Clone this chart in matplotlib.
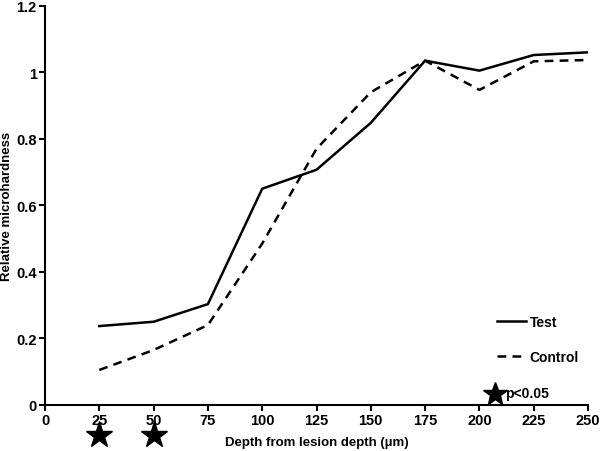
import matplotlib.pyplot as plt
from matplotlib.lines import Line2D

depth = [25, 50, 75, 100, 125, 150, 175, 200, 225, 250]
test = [0.237, 0.250, 0.303, 0.650, 0.707, 0.848, 1.035, 1.005, 1.052, 1.060]
control = [0.105, 0.165, 0.240, 0.485, 0.770, 0.940, 1.035, 0.947, 1.033, 1.037]
significant = [25, 50]

plt.rcParams["font.family"] = ["Liberation Sans", "DejaVu Sans"]
plt.rcParams["font.weight"] = "bold"
plt.rcParams["font.size"] = 10

fig = plt.figure(figsize=(6, 4.52), dpi=100)
ax = fig.add_axes([0.075, 0.102, 0.905, 0.883])

dash = (0, (3.5, 2.5))
ax.plot(depth, test, color="black", lw=1.8, label="Test")
ax.plot(depth, control, color="black", lw=1.8, ls=dash, label="Control")

ax.set_xlim(0, 250)
ax.set_ylim(0, 1.2)
ax.set_xticks(range(0, 251, 25))
ax.set_yticks([0, 0.2, 0.4, 0.6, 0.8, 1.0, 1.2])
ax.set_yticklabels(["0", "0.2", "0.4", "0.6", "0.8", "1", "1.2"])
for s in ("top", "right"):
    ax.spines[s].set_visible(False)
for s in ("left", "bottom"):
    ax.spines[s].set_linewidth(1.5)
ax.tick_params(width=1.5, length=4, pad=2, labelsize=10.5)

ax.set_xlabel("Depth from lesion depth (µm)", fontsize=9.5, fontweight="bold", labelpad=6)
ax.set_ylabel("Relative microhardness", fontsize=9.5, fontweight="bold", labelpad=2)

# significance stars below the x axis
trans = ax.get_xaxis_transform()
ax.plot(significant, [-0.075] * len(significant), marker="*", ms=20, color="black",
        ls="none", transform=trans, clip_on=False)

handles = [Line2D([], [], color="black", lw=1.8),
           Line2D([], [], color="black", lw=1.8, ls=dash)]
ax.legend(handles, ["Test", "Control"], loc="upper left", bbox_to_anchor=(0.832, 0.225),
          frameon=False, borderpad=0, borderaxespad=0, handlelength=2.1,
          handletextpad=0.25, labelspacing=1.5, prop={"weight": "bold", "size": 10})

ax.plot([0.828], [0.027], marker="*", ms=18, color="black", transform=ax.transAxes,
        clip_on=False)
ax.text(0.847, 0.03, "p<0.05", transform=ax.transAxes, fontsize=10,
        fontweight="bold", va="center")

fig.savefig("out.png")
